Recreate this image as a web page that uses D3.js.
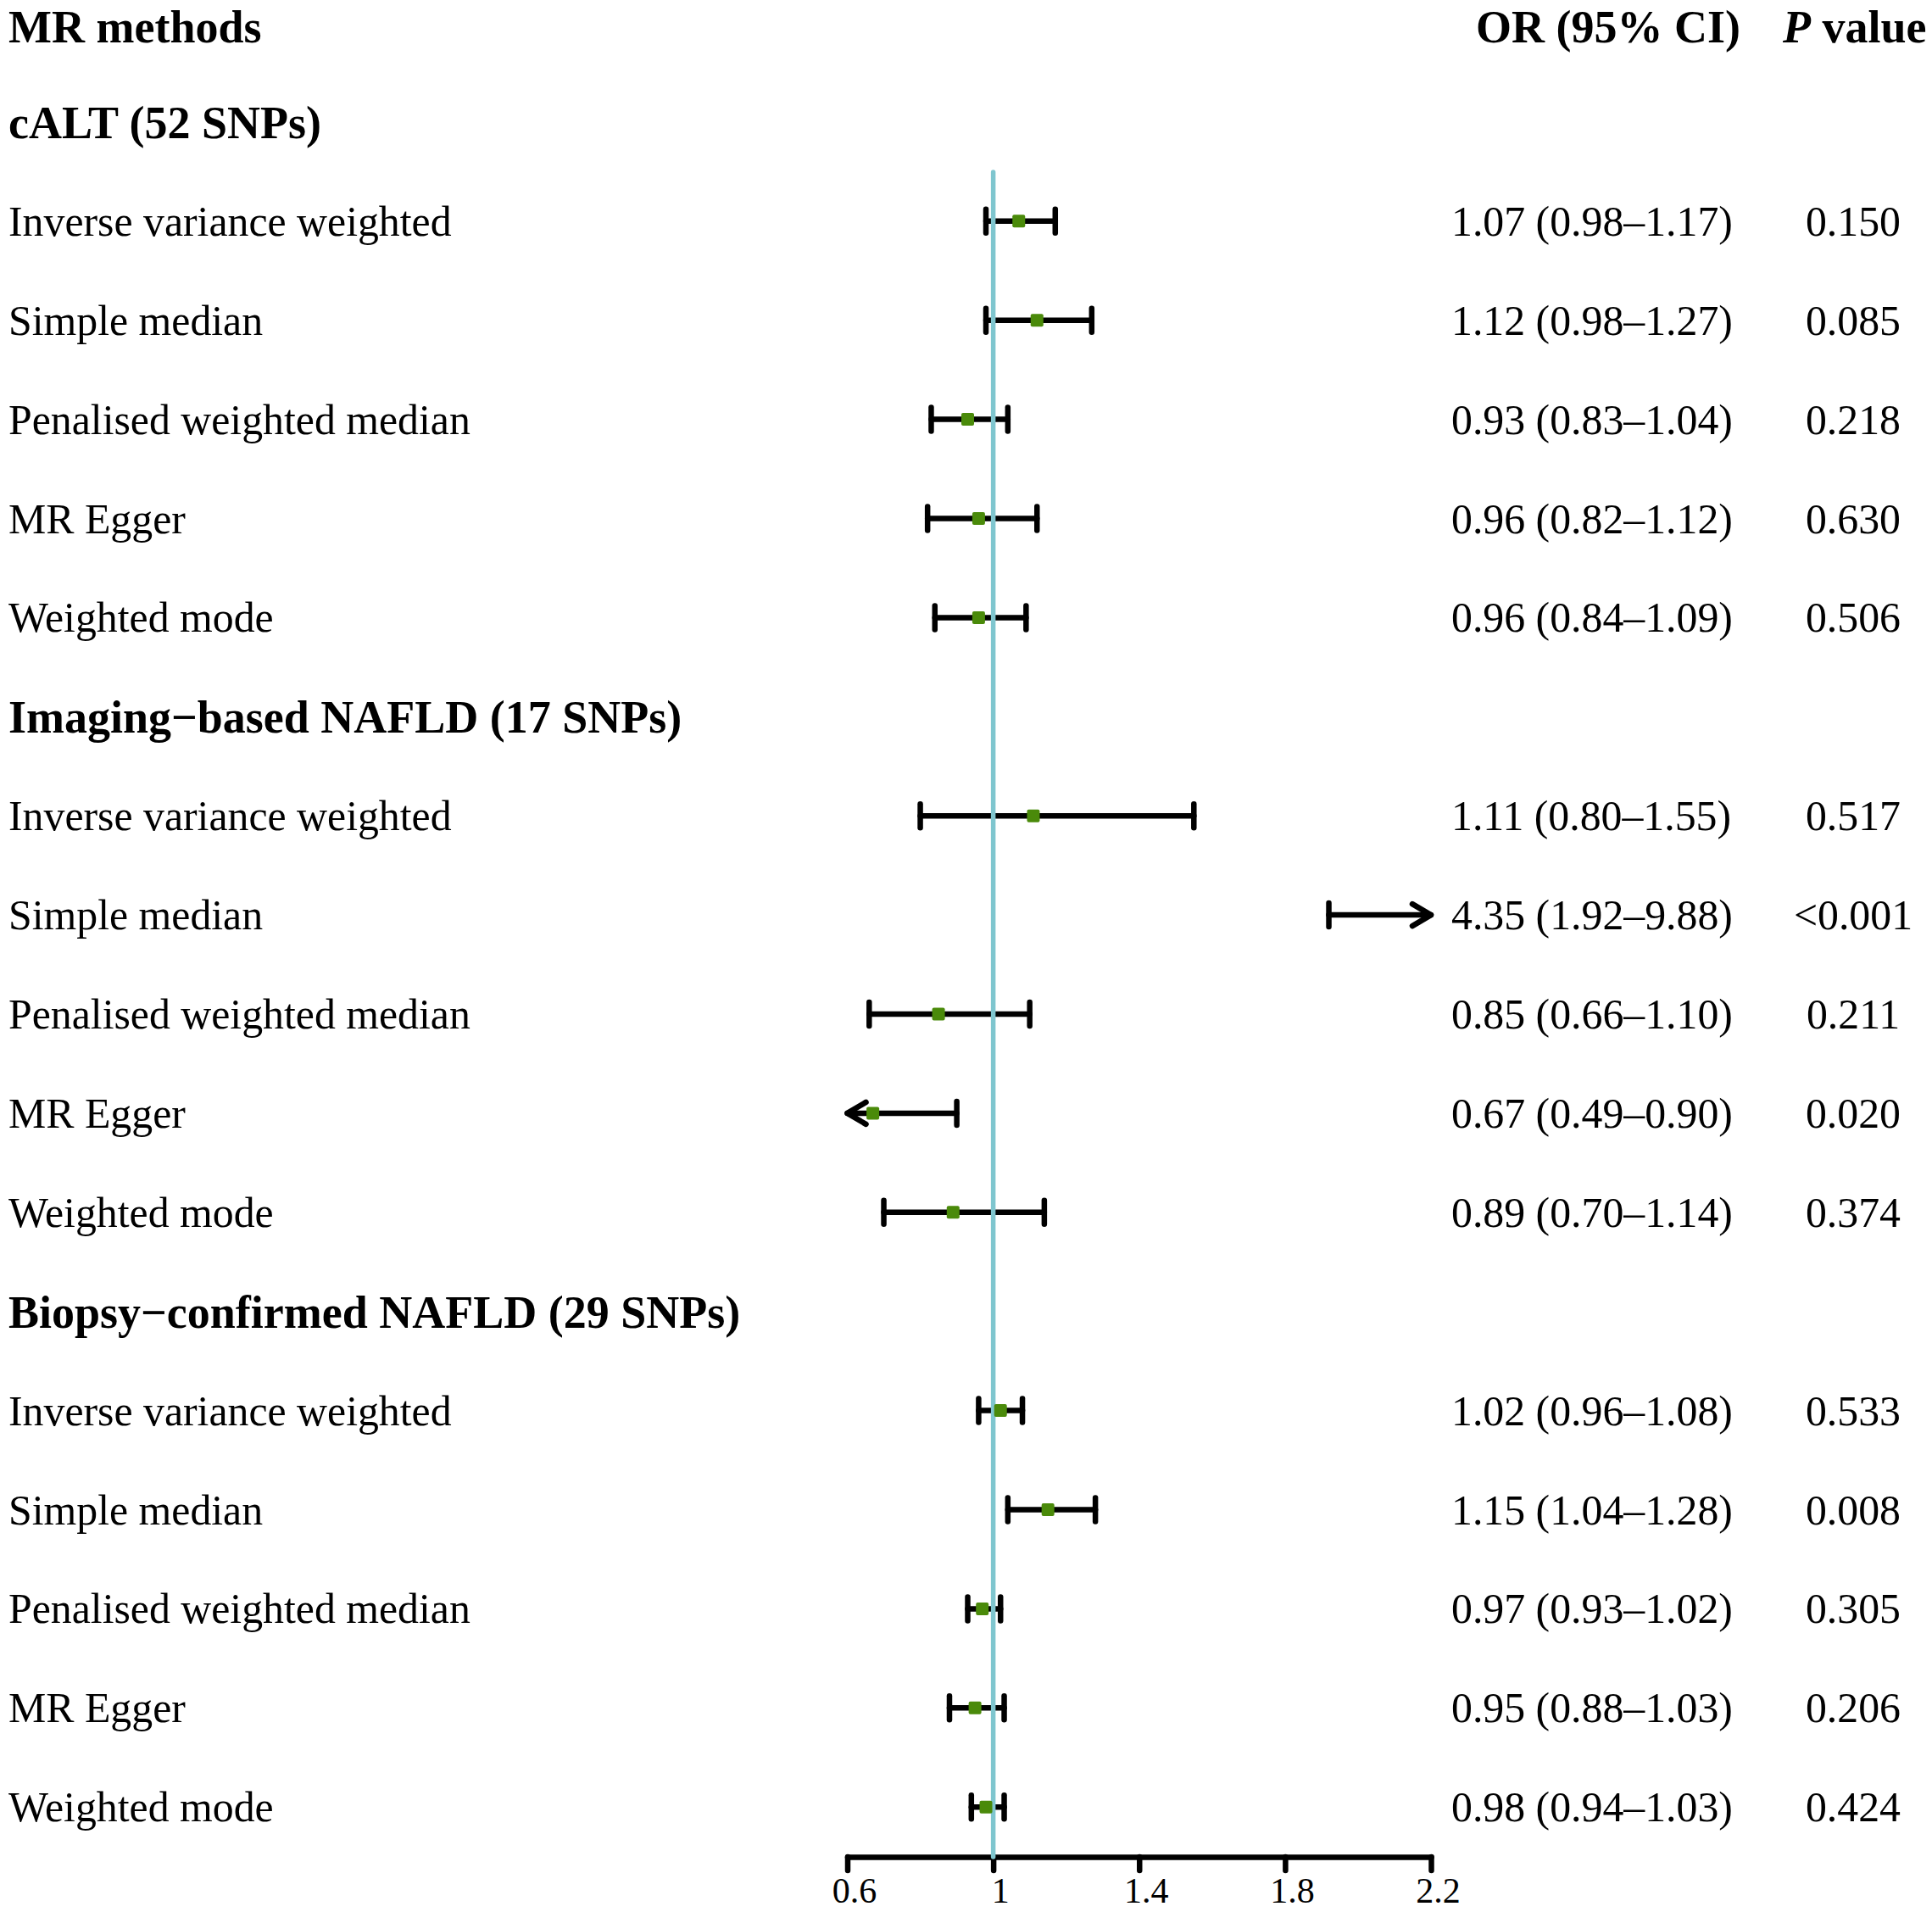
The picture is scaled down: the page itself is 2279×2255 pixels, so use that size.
<!DOCTYPE html>
<html>
<head>
<meta charset="utf-8">
<script src="https://cdn.jsdelivr.net/npm/d3@7"></script>
<style>
  html, body { margin: 0; padding: 0; background: #ffffff; }
  svg { display: block; }
  text { font-family: "Liberation Serif", "Times New Roman", serif; fill: #000; }
</style>
</head>
<body>
<svg id="chart" width="2279" height="2255"></svg>
<script>
// ---------- data ----------
const groupTitles = ["cALT (52 SNPs)", "Imaging\u2212based NAFLD (17 SNPs)", "Biopsy\u2212confirmed NAFLD (29 SNPs)"];
const methods = ["Inverse variance weighted", "Simple median", "Penalised weighted median", "MR Egger", "Weighted mode"];
const orValues = [
  [1.07, 1.12, 0.93, 0.96, 0.96],
  [1.11, 4.35, 0.85, 0.67, 0.89],
  [1.02, 1.15, 0.97, 0.95, 0.98]
];
const lowerCI = [
  [0.98, 0.98, 0.83, 0.82, 0.84],
  [0.80, 1.92, 0.66, 0.49, 0.70],
  [0.96, 1.04, 0.93, 0.88, 0.94]
];
const upperCI = [
  [1.17, 1.27, 1.04, 1.12, 1.09],
  [1.55, 9.88, 1.10, 0.90, 1.14],
  [1.08, 1.28, 1.02, 1.03, 1.03]
];
const pLabels = [
  ["0.150", "0.085", "0.218", "0.630", "0.506"],
  ["0.517", "<0.001", "0.211", "0.020", "0.374"],
  ["0.533", "0.008", "0.305", "0.206", "0.424"]
];
const tickValues = [0.6, 1, 1.4, 1.8, 2.2];
const tickLabels = ["0.6", "1", "1.4", "1.8", "2.2"];
const refValue = 1;

// ---------- layout ----------
const svg = d3.select("#chart");
const x = d3.scaleLinear().domain([0.6, 2.2]).range([999.5, 1688]);
const rowStep = 116.9;
const rowY0 = 27;
const rowY = i => rowY0 + i * rowStep;
const fmt = v => v.toFixed(2);

const rows = [];
groupTitles.forEach((g, gi) => {
  rows.push({type: "group", label: g});
  methods.forEach((m, mi) => {
    rows.push({type: "data", label: m, or: orValues[gi][mi], lo: lowerCI[gi][mi], hi: upperCI[gi][mi], p: pLabels[gi][mi]});
  });
});
rows.forEach((r, i) => r.y = rowY(i + 1));

const textX = 10;
const orX = 1712;
const pX = 2186;
const fsReg = 49.8, fsBold = 54;

// header
const headY = rowY(0) + 23;
svg.append("text").attr("x", textX).attr("y", headY)
  .attr("font-size", fsBold).attr("font-weight", "bold").text("MR methods");
svg.append("text").attr("x", 1741).attr("y", headY)
  .attr("font-size", fsBold).attr("font-weight", "bold").text("OR (95% CI)");
const ph = svg.append("text").attr("x", 2103).attr("y", headY)
  .attr("font-size", fsBold).attr("font-weight", "bold");
ph.append("tspan").attr("font-style", "italic").text("P");
ph.append("tspan").text(" value");

rows.forEach(r => {
  if (r.type === "group") {
    svg.append("text").attr("x", textX).attr("y", r.y + 19)
      .attr("font-size", fsBold).attr("font-weight", "bold").text(r.label);
  } else {
    svg.append("text").attr("x", textX).attr("y", r.y + 17)
      .attr("font-size", fsReg).text(r.label);
    svg.append("text").attr("x", orX).attr("y", r.y + 17)
      .attr("font-size", fsReg).text(`${fmt(r.or)} (${fmt(r.lo)}\u2013${fmt(r.hi)})`);
    svg.append("text").attr("x", pX).attr("y", r.y + 17)
      .attr("font-size", fsReg).attr("text-anchor", "middle").text(r.p);
  }
});

// whiskers
const [dMin, dMax] = x.domain();
const dataRows = rows.filter(r => r.type === "data");
const capH = 14;
const arrowL = 22, arrowW = 13;
const sw = 6.5;
const gW = svg.append("g").attr("stroke", "#000").attr("stroke-width", sw)
  .attr("stroke-linecap", "round").attr("stroke-linejoin", "round").attr("fill", "none");
dataRows.forEach(r => {
  const lo = Math.max(r.lo, dMin), hi = Math.min(r.hi, dMax);
  const x1 = x(lo), x2 = x(hi);
  gW.append("line").attr("x1", x1).attr("x2", x2).attr("y1", r.y).attr("y2", r.y);
  if (r.lo >= dMin) {
    gW.append("line").attr("x1", x1).attr("x2", x1).attr("y1", r.y - capH).attr("y2", r.y + capH);
  } else {
    gW.append("path").attr("d", `M${x1 + arrowL},${r.y - arrowW}L${x1},${r.y}L${x1 + arrowL},${r.y + arrowW}`);
  }
  if (r.hi <= dMax) {
    gW.append("line").attr("x1", x2).attr("x2", x2).attr("y1", r.y - capH).attr("y2", r.y + capH);
  } else {
    gW.append("path").attr("d", `M${x2 - arrowL},${r.y - arrowW}L${x2},${r.y}L${x2 - arrowL},${r.y + arrowW}`);
  }
});

// axis
const axisY = 2190;
const axis = d3.axisBottom(x).tickValues(tickValues)
  .tickFormat((d, i) => tickLabels[i]).tickSize(16).tickSizeOuter(0).tickPadding(8);
const gA = svg.append("g").attr("transform", `translate(0,${axisY})`).call(axis);
gA.select(".domain").attr("stroke", "#000").attr("stroke-width", sw).attr("stroke-linecap", "round");
gA.selectAll(".tick line").attr("stroke", "#000").attr("stroke-width", sw).attr("stroke-linecap", "round");
gA.selectAll(".tick text").attr("font-family", "Liberation Serif, Times New Roman, serif")
  .attr("font-size", 42).attr("fill", "#000").attr("dx", 8);

// reference line
svg.append("line").attr("x1", x(refValue)).attr("x2", x(refValue))
  .attr("y1", 203).attr("y2", axisY)
  .attr("stroke", "#7fc6cf").attr("stroke-width", 5.5).attr("stroke-linecap", "round");

// points
const sq = 15;
svg.append("g").selectAll("rect")
  .data(dataRows.filter(r => r.or >= dMin && r.or <= dMax))
  .join("rect")
  .attr("x", r => x(r.or) - sq / 2).attr("y", r => r.y - sq / 2)
  .attr("width", sq).attr("height", sq).attr("rx", 2)
  .attr("fill", "#4a8a0a");
</script>
</body>
</html>
